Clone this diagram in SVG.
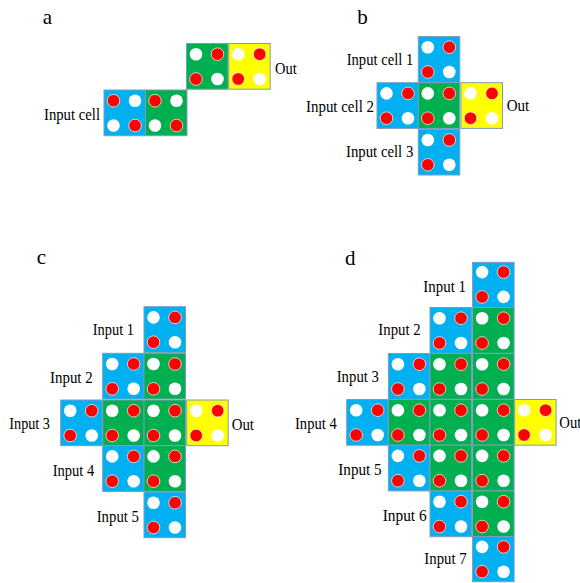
<svg xmlns="http://www.w3.org/2000/svg" width="580" height="583" viewBox="0 0 580 583">
<style>
.cell{stroke:#7d9cc0;stroke-width:1}
.blue{fill:#00b0f0}
.green{fill:#00b050}
.yellow{fill:#ffff00}
.w{fill:#ffffff}
.r{fill:#ff0000;stroke:#ffffff;stroke-width:0.7}
.lbl{font-size:16.5px;font-family:'Liberation Serif','DejaVu Serif',serif;fill:#000000}
.pl{font-size:21px;font-family:'Liberation Serif','DejaVu Serif',serif;fill:#000000}
</style>
<defs>
<g id="dA">
<circle class="w" cx="9.5" cy="10.7" r="6.3"/>
<circle class="r" cx="31" cy="10.7" r="6.3"/>
<circle class="r" cx="9.5" cy="35.5" r="6.3"/>
<circle class="w" cx="31" cy="35.5" r="6.3"/>
</g>
<g id="dB">
<circle class="r" cx="9.5" cy="10.7" r="6.3"/>
<circle class="w" cx="31" cy="10.7" r="6.3"/>
<circle class="w" cx="9.5" cy="35.5" r="6.3"/>
<circle class="r" cx="31" cy="35.5" r="6.3"/>
</g>
</defs>
<rect width="580" height="583" fill="#ffffff"/>
<g id="connectors"/>

<!-- Panel a -->
<g id="panel-a">
<text class="pl" x="42.7" y="24" font-family="Liberation Serif, serif">a</text>
<g id="a-input"><rect class="cell blue" x="104" y="90" width="41.5" height="45.7"/><use href="#dB" x="104" y="90"/></g>
<g id="a-g1"><rect class="cell green" x="145.5" y="90" width="41.5" height="45.7"/><use href="#dB" x="145.5" y="90"/></g>
<g id="a-g2"><rect class="cell green" x="186.5" y="43.5" width="41.5" height="45.7"/><use href="#dA" x="186.5" y="43.5"/></g>
<g id="a-out"><rect class="cell yellow" x="228.7" y="43.5" width="41.5" height="45.7"/><use href="#dA" x="228.7" y="43.5"/></g>
<text class="lbl" x="44" y="120" textLength="56" lengthAdjust="spacingAndGlyphs">Input cell</text>
<text class="lbl" x="275" y="74" textLength="21.7" lengthAdjust="spacingAndGlyphs">Out</text>
</g>

<!-- Panel b -->
<g id="panel-b">
<text class="pl" x="357.3" y="24">b</text>
<g id="b-in1"><rect class="cell blue" x="418.3" y="36.5" width="41.5" height="45.7"/><use href="#dA" x="418.3" y="36.5"/></g>
<g id="b-in2"><rect class="cell blue" x="377" y="82.7" width="41.5" height="45.7"/><use href="#dA" x="377" y="82.7"/></g>
<g id="b-g"><rect class="cell green" x="418.3" y="82.7" width="41.5" height="45.7"/><use href="#dA" x="418.3" y="82.7"/></g>
<g id="b-out"><rect class="cell yellow" x="461" y="82.7" width="41.5" height="45.7"/><use href="#dA" x="461" y="82.7"/></g>
<g id="b-in3"><rect class="cell blue" x="418.3" y="129.3" width="41.5" height="45.7"/><use href="#dA" x="418.3" y="129.3"/></g>
<text class="lbl" x="346.7" y="65" textLength="66.6" lengthAdjust="spacingAndGlyphs">Input cell 1</text>
<text class="lbl" x="306" y="111.7" textLength="68" lengthAdjust="spacingAndGlyphs">Input cell 2</text>
<text class="lbl" x="346" y="156.7" textLength="67.3" lengthAdjust="spacingAndGlyphs">Input cell 3</text>
<text class="lbl" x="506.7" y="111" textLength="22.6" lengthAdjust="spacingAndGlyphs">Out</text>
</g>

<!-- Panel c -->
<g id="panel-c">
<text class="pl" x="36.7" y="264">c</text>
<g id="c-in1"><rect class="cell blue" x="144" y="306.7" width="41.5" height="45.7"/><use href="#dA" x="144" y="306.7"/></g>
<g id="c-in2"><rect class="cell blue" x="102.7" y="353.3" width="41.5" height="45.7"/><use href="#dA" x="102.7" y="353.3"/></g>
<g id="c-g21"><rect class="cell green" x="144" y="353.3" width="41.5" height="45.7"/><use href="#dA" x="144" y="353.3"/></g>
<g id="c-in3"><rect class="cell blue" x="60.7" y="400" width="41.5" height="45.7"/><use href="#dA" x="60.7" y="400"/></g>
<g id="c-g31"><rect class="cell green" x="102.7" y="400" width="41.5" height="45.7"/><use href="#dA" x="102.7" y="400"/></g>
<g id="c-g32"><rect class="cell green" x="144" y="400" width="41.5" height="45.7"/><use href="#dA" x="144" y="400"/></g>
<g id="c-out"><rect class="cell yellow" x="186.7" y="400" width="41.5" height="45.7"/><use href="#dA" x="186.7" y="400"/></g>
<g id="c-in4"><rect class="cell blue" x="102.7" y="445.7" width="41.5" height="45.7"/><use href="#dA" x="102.7" y="445.7"/></g>
<g id="c-g41"><rect class="cell green" x="144" y="445.7" width="41.5" height="45.7"/><use href="#dA" x="144" y="445.7"/></g>
<g id="c-in5"><rect class="cell blue" x="144" y="492" width="41.5" height="45.7"/><use href="#dA" x="144" y="492"/></g>
<text class="lbl" x="92.7" y="335" textLength="41.3" lengthAdjust="spacingAndGlyphs">Input 1</text>
<text class="lbl" x="50" y="383.3" textLength="42.7" lengthAdjust="spacingAndGlyphs">Input 2</text>
<text class="lbl" x="9.3" y="429" textLength="40.7" lengthAdjust="spacingAndGlyphs">Input 3</text>
<text class="lbl" x="231.7" y="430" textLength="22.3" lengthAdjust="spacingAndGlyphs">Out</text>
<text class="lbl" x="52.7" y="476" textLength="41.6" lengthAdjust="spacingAndGlyphs">Input 4</text>
<text class="lbl" x="96.7" y="521.7" textLength="42.3" lengthAdjust="spacingAndGlyphs">Input 5</text>
</g>

<!-- Panel d -->
<g id="panel-d">
<text class="pl" x="345" y="265">d</text>
<g id="d-in1"><rect class="cell blue" x="472.6" y="262.4" width="41.5" height="45.2"/><use href="#dA" x="472.6" y="261.4"/></g>
<g id="d-in2"><rect class="cell blue" x="430" y="307.5" width="41.5" height="45.7"/><use href="#dA" x="430" y="307.5"/></g>
<g id="d-g21"><rect class="cell green" x="472.6" y="307.5" width="41.5" height="45.7"/><use href="#dA" x="472.6" y="307.5"/></g>
<g id="d-in3"><rect class="cell blue" x="388.4" y="353.5" width="41.5" height="45.7"/><use href="#dA" x="388.4" y="353.5"/></g>
<g id="d-g31"><rect class="cell green" x="430" y="353.5" width="41.5" height="45.7"/><use href="#dA" x="430" y="353.5"/></g>
<g id="d-g32"><rect class="cell green" x="472.6" y="353.5" width="41.5" height="45.7"/><use href="#dA" x="472.6" y="353.5"/></g>
<g id="d-in4"><rect class="cell blue" x="346.7" y="399.5" width="41.5" height="45.7"/><use href="#dA" x="346.7" y="399.5"/></g>
<g id="d-g41"><rect class="cell green" x="388.4" y="399.5" width="41.5" height="45.7"/><use href="#dA" x="388.4" y="399.5"/></g>
<g id="d-g42"><rect class="cell green" x="430" y="399.5" width="41.5" height="45.7"/><use href="#dA" x="430" y="399.5"/></g>
<g id="d-g43"><rect class="cell green" x="472.6" y="399.5" width="41.5" height="45.7"/><use href="#dA" x="472.6" y="399.5"/></g>
<g id="d-out"><rect class="cell yellow" x="514.6" y="399.5" width="41.5" height="45.7"/><use href="#dA" x="514.6" y="399.5"/></g>
<g id="d-in5"><rect class="cell blue" x="388.4" y="445.2" width="41.5" height="45.7"/><use href="#dA" x="388.4" y="445.2"/></g>
<g id="d-g51"><rect class="cell green" x="430" y="445.2" width="41.5" height="45.7"/><use href="#dA" x="430" y="445.2"/></g>
<g id="d-g52"><rect class="cell green" x="472.6" y="445.2" width="41.5" height="45.7"/><use href="#dA" x="472.6" y="445.2"/></g>
<g id="d-in6"><rect class="cell blue" x="430" y="491" width="41.5" height="45.7"/><use href="#dA" x="430" y="491"/></g>
<g id="d-g61"><rect class="cell green" x="472.6" y="491" width="41.5" height="45.7"/><use href="#dA" x="472.6" y="491"/></g>
<g id="d-in7"><rect class="cell blue" x="472.6" y="536.7" width="41.5" height="45"/><use href="#dA" x="472.6" y="536.2"/></g>
<text class="lbl" x="423.3" y="291.7" textLength="42.7" lengthAdjust="spacingAndGlyphs">Input 1</text>
<text class="lbl" x="378.3" y="335" textLength="42.4" lengthAdjust="spacingAndGlyphs">Input 2</text>
<text class="lbl" x="336.7" y="381.7" textLength="42.3" lengthAdjust="spacingAndGlyphs">Input 3</text>
<text class="lbl" x="295" y="429" textLength="41.7" lengthAdjust="spacingAndGlyphs">Input 4</text>
<text class="lbl" x="559.3" y="427.7" textLength="22" lengthAdjust="spacingAndGlyphs">Out</text>
<text class="lbl" x="338.3" y="475" textLength="43.4" lengthAdjust="spacingAndGlyphs">Input 5</text>
<text class="lbl" x="382.7" y="520.7" textLength="44" lengthAdjust="spacingAndGlyphs">Input 6</text>
<text class="lbl" x="424.3" y="564" textLength="42.4" lengthAdjust="spacingAndGlyphs">Input 7</text>
</g>
</svg>
